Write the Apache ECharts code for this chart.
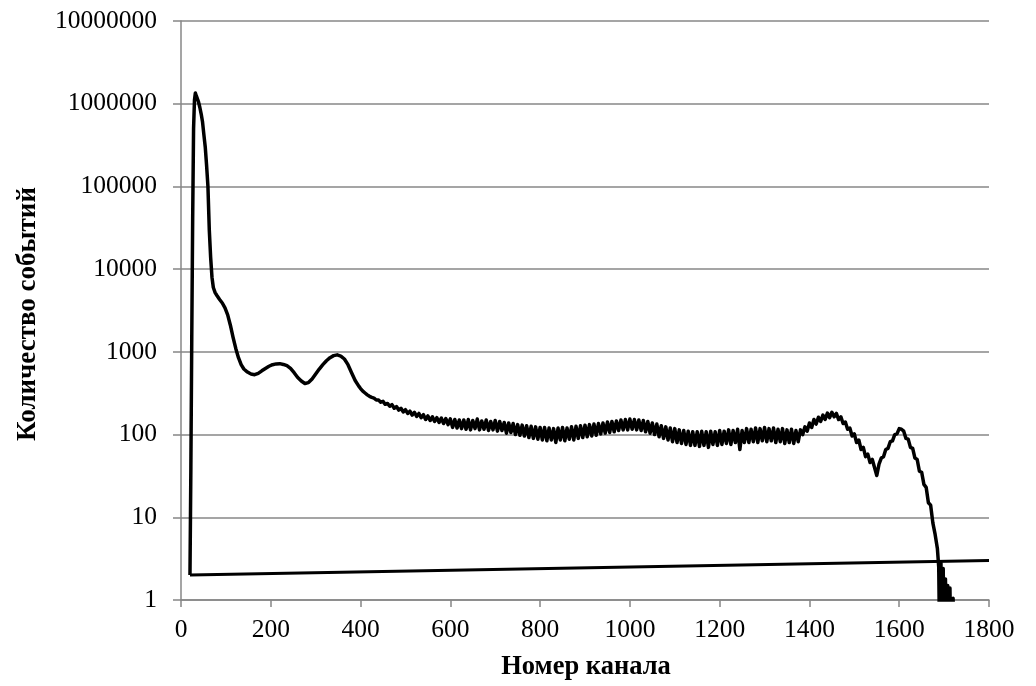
<!DOCTYPE html>
<html>
<head>
<meta charset="utf-8">
<script src="https://cdn.jsdelivr.net/npm/echarts@6/dist/echarts.min.js"></script>
<style>
html,body{margin:0;padding:0;background:#fff;}
#chart{width:1036px;height:686px;}
</style>
</head>
<body>
<div id="chart"></div>
<script>
// Baseline segment (straight line drawn in the reference)
const baseChannels = [20, 1800];
const baseCounts = [2, 3];

// Spectrum, low channels (irregular spacing)
const lowChannels = [
  20,22,24,26,28,30,32,34,36,39,42,45,48,51,54,57,60,63,66,69,72,76,80,86,92,98,104,110,116,122,128,134,140,148,156,164,172,180,
  188,196,204,212,220,228,236,244,252,260,268,276,284,292,300,308,316,324,332,340,348,356,364,372,380,388,396
];
const lowCounts = [
  2,40,1500,40000,500000,1100000,1350000,1250000,1200000,1050000,900000,750000,600000,420000,300000,180000,100000,30000,14000,8000,6000,5200,4800,4300,3900,3400,2800,2100,1500,1100,850,700,620,570,540,530,550,590,
  630,670,700,715,720,705,680,630,560,490,445,415,425,470,540,620,700,780,850,900,920,890,820,700,560,450,385
];

// Spectrum, channels 400..1685 every 5 channels
const denseStart = 400;
const denseStep = 5;
const denseCounts = [
  360,335,318,302,290,282,276,262,262,246,252,232,238,220,230,208,218,198,208,188,
  200,180,192,172,186,166,180,160,174,152,168,148,164,144,160,140,158,136,156,132,
  155,122,152,120,150,118,150,116,152,114,148,118,154,114,146,116,150,112,144,114,
  148,110,144,112,140,104,138,106,136,100,132,98,130,96,128,92,126,90,124,88,
  122,86,122,84,120,86,118,80,120,86,122,84,120,88,124,86,126,90,128,92,
  130,94,132,96,134,98,136,102,138,104,142,106,144,108,146,112,150,114,152,114,
  154,116,152,114,150,112,148,108,144,104,138,100,134,94,128,90,124,86,120,82,
  118,80,114,78,112,76,110,74,108,74,108,72,110,74,108,70,110,76,108,74,
  112,76,110,78,114,76,112,80,116,66,112,80,118,80,116,82,120,80,118,84,
  122,82,118,84,120,80,116,82,118,78,114,80,116,78,112,82,114,100,124,110,
  138,122,152,134,162,144,172,152,182,160,186,164,180,152,164,136,142,116,120,96,
  102,80,86,66,70,54,58,46,50,40,32,44,52,54,66,68,82,84,100,102,
  118,116,110,90,88,70,68,52,50,36,35,25,23,15,14,8.5,6.2,4.2
];

// Spectrum tail: drop-outs below 1 count
const tailChannels = [1688,1690,1693,1695,1698,1700,1703,1705,1708,1710,1713,1715,1720,1722];
const tailCounts = [2.5,0.3,2.8,0.3,2.4,0.3,1.8,0.3,1.5,0.3,1.4,0.3,1.05,0.3];

// Axis tick labels
const xTicks = [0,200,400,600,800,1000,1200,1400,1600,1800];
const yTicks = [1,10,100,1000,10000,100000,1000000,10000000];

const spectrum = [];
lowChannels.forEach((c, i) => spectrum.push([c, lowCounts[i]]));
denseCounts.forEach((v, i) => spectrum.push([denseStart + denseStep * i, v]));
tailChannels.forEach((c, i) => spectrum.push([c, tailCounts[i]]));
const baseline = baseChannels.map((c, i) => [c, baseCounts[i]]);

const gray = '#878787';
const chart = echarts.init(document.getElementById('chart'), null, {renderer: 'canvas'});
chart.setOption({
  backgroundColor: '#ffffff',
  animation: false,
  grid: {left: 181, right: 47, top: 21, bottom: 86, containLabel: false},
  xAxis: {
    type: 'value', min: xTicks[0], max: xTicks[xTicks.length - 1], interval: 200,
    axisLine: {show: true, lineStyle: {color: gray, width: 1.5}},
    axisTick: {show: true, length: 7, lineStyle: {color: gray, width: 1.5}},
    axisLabel: {color: '#000', fontFamily: 'Liberation Serif', fontSize: 25.5, margin: 17,
      formatter: v => String(v)},
    splitLine: {show: false}
  },
  yAxis: {
    type: 'log', logBase: 10, min: yTicks[0], max: yTicks[yTicks.length - 1],
    axisLine: {show: true, lineStyle: {color: gray, width: 1.5}},
    axisTick: {show: true, length: 8, lineStyle: {color: gray, width: 1.5}},
    axisLabel: {color: '#000', fontFamily: 'Liberation Serif', fontSize: 25.5, margin: 24,
      formatter: v => String(Math.round(v))},
    splitLine: {show: true, lineStyle: {color: gray, width: 1.5}}
  },
  graphic: [
    {type: 'text', x: 586, y: 667,
      style: {text: 'Номер канала', font: 'bold 26.5px "Liberation Serif"', fill: '#000',
        align: 'center', verticalAlign: 'middle'}},
    {type: 'text', x: 28, y: 314, rotation: Math.PI / 2,
      style: {text: 'Количество событий', font: 'bold 27px "Liberation Serif"', fill: '#000',
        align: 'center', verticalAlign: 'middle'}}
  ],
  series: [
    {type: 'line', data: baseline, showSymbol: false, clip: true,
      lineStyle: {color: '#000', width: 3}},
    {type: 'line', data: spectrum, showSymbol: false, clip: true,
      lineStyle: {color: '#000', width: 3.5, join: 'round'}}
  ]
});
</script>
</body>
</html>
